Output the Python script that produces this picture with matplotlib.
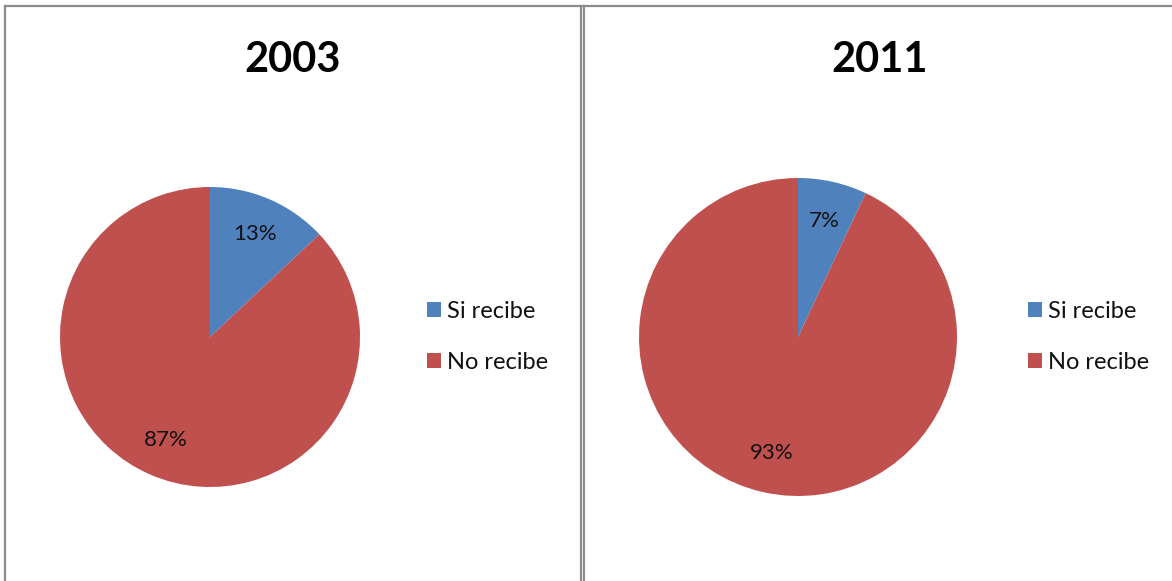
import matplotlib.pyplot as plt
from matplotlib.lines import Line2D

plt.rcParams['font.family'] = ['Lato', 'DejaVu Sans']

# data
years = ['2003', '2011']
categories = ['Si recibe', 'No recibe']
values_2003 = [13, 87]
values_2011 = [7, 93]
colors = ['#4F81BD', '#C0504D']

W, H = 1172, 581
fig = plt.figure(figsize=(W / 100, H / 100), dpi=100)

def px_axes(left, top, size):
    # axes placed in pixel coordinates (top-left origin)
    return fig.add_axes([left / W, 1 - (top + size) / H, size / W, size / H])

# panel borders
border = dict(color='#8c8c8c', lw=1.6, transform=fig.transFigure)
fig.add_artist(Line2D([5 / W, 1], [1 - 6 / H, 1 - 6 / H], **border))
fig.add_artist(Line2D([5 / W, 5 / W], [0, 1 - 6 / H], **border))
fig.add_artist(Line2D([580.5 / W, 580.5 / W], [0, 1 - 6 / H], **border))
fig.add_artist(Line2D([583.5 / W, 583.5 / W], [0, 1 - 6 / H], **border))

panels = [
    (years[0], values_2003, (60, 187, 300), 293, (427, 337)),
    (years[1], values_2011, (639, 178, 318), 880, (1028, 337)),
]

for year, vals, (left, top, size), title_x, leg_pos in panels:
    ax = px_axes(left, top, size)
    wedges, _, autotexts = ax.pie(
        vals, colors=colors, startangle=90, counterclock=False,
        autopct='%d%%', pctdistance=0.75, radius=1,
        wedgeprops=dict(edgecolor='none'),
        textprops=dict(fontsize=16, color='#111111'))
    ax.set_xlim(-1, 1)
    ax.set_ylim(-1, 1)
    ax.set_aspect('equal')
    ax.axis('off')

    fig.text(title_x / W, 1 - 60 / H, year, ha='center', va='center',
             fontsize=30, fontweight='bold', color='black')

    fig.legend(wedges, categories, loc='center left',
               bbox_to_anchor=(leg_pos[0] / W, 1 - leg_pos[1] / H),
               frameon=False, fontsize=17, handlelength=0.6,
               handleheight=0.6, handletextpad=0.25, labelspacing=1.25,
               borderpad=0, borderaxespad=0, labelcolor='#111111')

fig.savefig('out.png', dpi=100)
